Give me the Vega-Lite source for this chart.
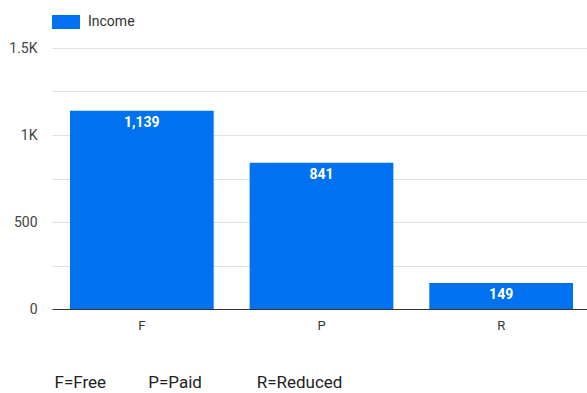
{
  "$schema": "https://vega.github.io/schema/vega-lite/v6.json",
  "width": 539,
  "height": 261,
  "autosize": {"type": "none"},
  "padding": {"left": 52, "top": 48, "right": 0, "bottom": 84},
  "background": "white",
  "config": {
    "view": {"stroke": null},
    "font": "Roboto",
    "axis": {"labelFont": "Roboto", "titleFont": "Roboto"},
    "legend": {"labelFont": "Roboto"}
  },
  "data": {
    "values": [
      {"type": "F", "series": "Income", "income": 1139},
      {"type": "P", "series": "Income", "income": 841},
      {"type": "R", "series": "Income", "income": 149}
    ]
  },
  "encoding": {
    "x": {
      "field": "type",
      "type": "nominal",
      "sort": null,
      "scale": {"paddingInner": 0.2, "paddingOuter": 0.1},
      "axis": {
        "labelAngle": 0,
        "labelFontSize": 13,
        "labelColor": "#333333",
        "labelPadding": 10,
        "ticks": false,
        "domainColor": "#333333",
        "domainWidth": 1,
        "title": "F=Free\u00a0\u00a0\u00a0\u00a0\u00a0\u00a0\u00a0\u00a0\u00a0\u00a0P=Paid\u00a0\u00a0\u00a0\u00a0\u00a0\u00a0\u00a0\u00a0\u00a0\u00a0\u00a0\u00a0\u00a0R=Reduced",
        "titleFontSize": 17,
        "titleFontWeight": "normal",
        "titleColor": "#222222",
        "titleAnchor": "start",
        "titleAlign": "left",
        "titleBaseline": "middle",
        "titleX": 2,
        "titleY": 73
      }
    },
    "y": {
      "field": "income",
      "type": "quantitative",
      "scale": {"domain": [0, 1500], "nice": false},
      "axis": {
        "title": null,
        "values": [0, 250, 500, 750, 1000, 1250, 1500],
        "labelExpr": "datum.value % 500 != 0 ? '' : (datum.value >= 1000 ? format(datum.value / 1000, '~g') + 'K' : datum.value + '')",
        "labelFontSize": 14,
        "labelColor": "#444444",
        "labelPadding": 15,
        "ticks": false,
        "domain": false,
        "gridColor": "#e0e0e0",
        "gridWidth": 1
      }
    }
  },
  "layer": [
    {
      "mark": {"type": "bar", "color": "#0072f0"},
      "encoding": {
        "color": {
          "field": "series",
          "type": "nominal",
          "scale": {"range": ["#0072f0"]},
          "legend": {
            "title": null,
            "orient": "none",
            "legendX": 0,
            "legendY": -40,
            "symbolType": "M-1,-0.5H1V0.5H-1Z",
            "symbolSize": 784,
            "symbolStrokeWidth": 0,
            "labelFontSize": 14,
            "labelColor": "#333333",
            "labelOffset": 8
          }
        }
      }
    },
    {
      "mark": {
        "type": "text",
        "color": "white",
        "fontWeight": "bold",
        "fontSize": 14,
        "baseline": "top",
        "dy": 5
      },
      "encoding": {
        "text": {"field": "income", "type": "quantitative", "format": ","}
      }
    }
  ]
}
